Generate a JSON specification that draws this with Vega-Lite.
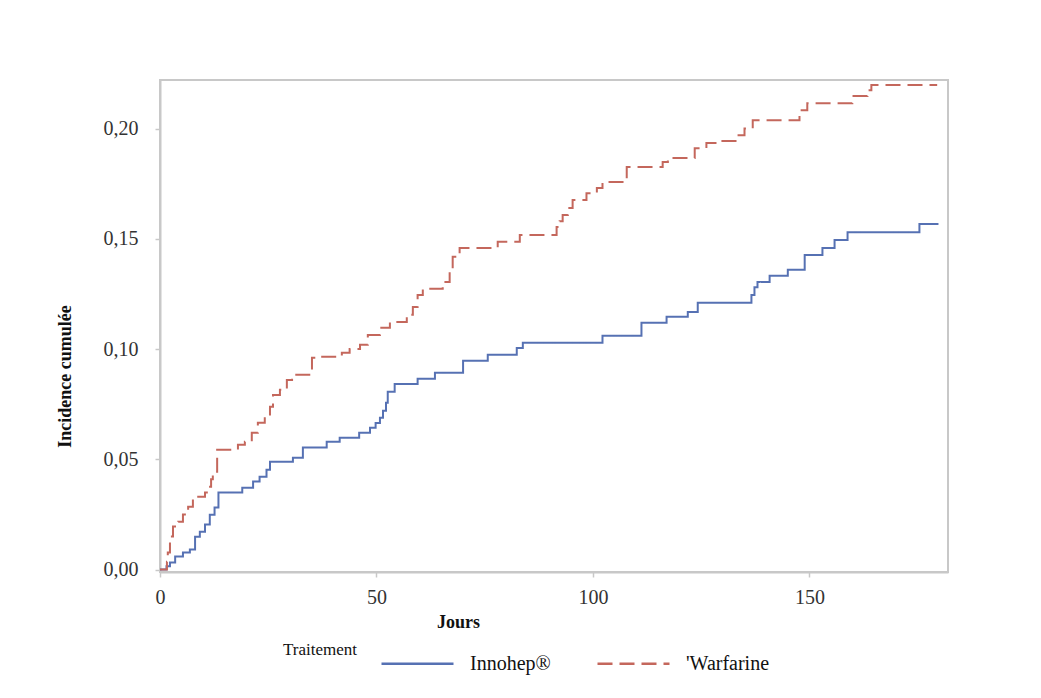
{
  "$schema": "https://vega.github.io/schema/vega-lite/v6.json",
  "width": 788,
  "height": 492,
  "autosize": {"type": "none"},
  "padding": {"left": 160, "top": 80, "right": 93, "bottom": 126},
  "background": "white",
  "config": {
    "view": {"stroke": "#c8c8c8", "strokeWidth": 2},
    "font": "Liberation Serif"
  },
  "data": {
    "values": [
      {"day": 0, "inc": 0, "trt": "Innohep®"},
      {"day": 1.5, "inc": 0.0015, "trt": "Innohep®"},
      {"day": 2.3, "inc": 0.0032, "trt": "Innohep®"},
      {"day": 3.5, "inc": 0.0059, "trt": "Innohep®"},
      {"day": 5.3, "inc": 0.0077, "trt": "Innohep®"},
      {"day": 6.9, "inc": 0.0091, "trt": "Innohep®"},
      {"day": 8.1, "inc": 0.0149, "trt": "Innohep®"},
      {"day": 9.2, "inc": 0.0172, "trt": "Innohep®"},
      {"day": 10.4, "inc": 0.0204, "trt": "Innohep®"},
      {"day": 11.5, "inc": 0.0249, "trt": "Innohep®"},
      {"day": 12.6, "inc": 0.0281, "trt": "Innohep®"},
      {"day": 13.5, "inc": 0.0349, "trt": "Innohep®"},
      {"day": 19, "inc": 0.0371, "trt": "Innohep®"},
      {"day": 21.5, "inc": 0.0399, "trt": "Innohep®"},
      {"day": 23, "inc": 0.0421, "trt": "Innohep®"},
      {"day": 24.6, "inc": 0.0453, "trt": "Innohep®"},
      {"day": 25.4, "inc": 0.0489, "trt": "Innohep®"},
      {"day": 30.7, "inc": 0.0507, "trt": "Innohep®"},
      {"day": 33, "inc": 0.0553, "trt": "Innohep®"},
      {"day": 38.5, "inc": 0.058, "trt": "Innohep®"},
      {"day": 41.5, "inc": 0.0598, "trt": "Innohep®"},
      {"day": 46, "inc": 0.062, "trt": "Innohep®"},
      {"day": 48.5, "inc": 0.0643, "trt": "Innohep®"},
      {"day": 49.8, "inc": 0.0665, "trt": "Innohep®"},
      {"day": 50.8, "inc": 0.0688, "trt": "Innohep®"},
      {"day": 51.5, "inc": 0.072, "trt": "Innohep®"},
      {"day": 52.2, "inc": 0.0756, "trt": "Innohep®"},
      {"day": 52.6, "inc": 0.0806, "trt": "Innohep®"},
      {"day": 54.2, "inc": 0.0842, "trt": "Innohep®"},
      {"day": 59.5, "inc": 0.0865, "trt": "Innohep®"},
      {"day": 63.5, "inc": 0.0892, "trt": "Innohep®"},
      {"day": 70, "inc": 0.0947, "trt": "Innohep®"},
      {"day": 75.7, "inc": 0.0974, "trt": "Innohep®"},
      {"day": 82.4, "inc": 0.1005, "trt": "Innohep®"},
      {"day": 83.8, "inc": 0.1028, "trt": "Innohep®"},
      {"day": 102.2, "inc": 0.106, "trt": "Innohep®"},
      {"day": 111.2, "inc": 0.1119, "trt": "Innohep®"},
      {"day": 117, "inc": 0.1146, "trt": "Innohep®"},
      {"day": 121.9, "inc": 0.1168, "trt": "Innohep®"},
      {"day": 124.2, "inc": 0.121, "trt": "Innohep®"},
      {"day": 136.6, "inc": 0.1245, "trt": "Innohep®"},
      {"day": 137.3, "inc": 0.128, "trt": "Innohep®"},
      {"day": 138, "inc": 0.1304, "trt": "Innohep®"},
      {"day": 140.8, "inc": 0.1332, "trt": "Innohep®"},
      {"day": 145, "inc": 0.136, "trt": "Innohep®"},
      {"day": 148.9, "inc": 0.1427, "trt": "Innohep®"},
      {"day": 153, "inc": 0.1458, "trt": "Innohep®"},
      {"day": 155.8, "inc": 0.1495, "trt": "Innohep®"},
      {"day": 158.8, "inc": 0.153, "trt": "Innohep®"},
      {"day": 175.4, "inc": 0.1567, "trt": "Innohep®"},
      {"day": 179.8, "inc": 0.1567, "trt": "Innohep®"},
      {"day": 0, "inc": 0, "trt": "'Warfarine"},
      {"day": 1.6, "inc": 0.0036, "trt": "'Warfarine"},
      {"day": 1.8, "inc": 0.0077, "trt": "'Warfarine"},
      {"day": 2.3, "inc": 0.015, "trt": "'Warfarine"},
      {"day": 3, "inc": 0.0195, "trt": "'Warfarine"},
      {"day": 4.2, "inc": 0.0217, "trt": "'Warfarine"},
      {"day": 5.3, "inc": 0.025, "trt": "'Warfarine"},
      {"day": 6.5, "inc": 0.0285, "trt": "'Warfarine"},
      {"day": 7.6, "inc": 0.033, "trt": "'Warfarine"},
      {"day": 10.4, "inc": 0.035, "trt": "'Warfarine"},
      {"day": 11.1, "inc": 0.0376, "trt": "'Warfarine"},
      {"day": 11.8, "inc": 0.041, "trt": "'Warfarine"},
      {"day": 12.2, "inc": 0.0444, "trt": "'Warfarine"},
      {"day": 13.2, "inc": 0.0543, "trt": "'Warfarine"},
      {"day": 18, "inc": 0.0566, "trt": "'Warfarine"},
      {"day": 19.6, "inc": 0.058, "trt": "'Warfarine"},
      {"day": 21.2, "inc": 0.062, "trt": "'Warfarine"},
      {"day": 22.6, "inc": 0.0666, "trt": "'Warfarine"},
      {"day": 24.2, "inc": 0.0693, "trt": "'Warfarine"},
      {"day": 25.4, "inc": 0.0738, "trt": "'Warfarine"},
      {"day": 26.1, "inc": 0.0792, "trt": "'Warfarine"},
      {"day": 27.7, "inc": 0.0815, "trt": "'Warfarine"},
      {"day": 29.3, "inc": 0.086, "trt": "'Warfarine"},
      {"day": 30.5, "inc": 0.0883, "trt": "'Warfarine"},
      {"day": 35.1, "inc": 0.096, "trt": "'Warfarine"},
      {"day": 36, "inc": 0.0965, "trt": "'Warfarine"},
      {"day": 42, "inc": 0.0983, "trt": "'Warfarine"},
      {"day": 43.8, "inc": 0.1, "trt": "'Warfarine"},
      {"day": 46.2, "inc": 0.1019, "trt": "'Warfarine"},
      {"day": 48, "inc": 0.1064, "trt": "'Warfarine"},
      {"day": 50.8, "inc": 0.1096, "trt": "'Warfarine"},
      {"day": 53.1, "inc": 0.1123, "trt": "'Warfarine"},
      {"day": 57, "inc": 0.1155, "trt": "'Warfarine"},
      {"day": 58.4, "inc": 0.1191, "trt": "'Warfarine"},
      {"day": 59.5, "inc": 0.1245, "trt": "'Warfarine"},
      {"day": 60.7, "inc": 0.1273, "trt": "'Warfarine"},
      {"day": 65.3, "inc": 0.1304, "trt": "'Warfarine"},
      {"day": 66.9, "inc": 0.135, "trt": "'Warfarine"},
      {"day": 67.6, "inc": 0.1418, "trt": "'Warfarine"},
      {"day": 69.2, "inc": 0.1458, "trt": "'Warfarine"},
      {"day": 78, "inc": 0.1486, "trt": "'Warfarine"},
      {"day": 83.1, "inc": 0.1517, "trt": "'Warfarine"},
      {"day": 91.6, "inc": 0.1553, "trt": "'Warfarine"},
      {"day": 92.3, "inc": 0.158, "trt": "'Warfarine"},
      {"day": 93, "inc": 0.1608, "trt": "'Warfarine"},
      {"day": 94.2, "inc": 0.164, "trt": "'Warfarine"},
      {"day": 95.3, "inc": 0.1676, "trt": "'Warfarine"},
      {"day": 98.5, "inc": 0.1707, "trt": "'Warfarine"},
      {"day": 100.9, "inc": 0.173, "trt": "'Warfarine"},
      {"day": 102.2, "inc": 0.1757, "trt": "'Warfarine"},
      {"day": 107.8, "inc": 0.1825, "trt": "'Warfarine"},
      {"day": 116.1, "inc": 0.1848, "trt": "'Warfarine"},
      {"day": 117.3, "inc": 0.1866, "trt": "'Warfarine"},
      {"day": 123.5, "inc": 0.1911, "trt": "'Warfarine"},
      {"day": 126.2, "inc": 0.1934, "trt": "'Warfarine"},
      {"day": 129.9, "inc": 0.1943, "trt": "'Warfarine"},
      {"day": 133.2, "inc": 0.197, "trt": "'Warfarine"},
      {"day": 135, "inc": 0.2, "trt": "'Warfarine"},
      {"day": 136.9, "inc": 0.2038, "trt": "'Warfarine"},
      {"day": 147.7, "inc": 0.2083, "trt": "'Warfarine"},
      {"day": 149.5, "inc": 0.2115, "trt": "'Warfarine"},
      {"day": 159.9, "inc": 0.2147, "trt": "'Warfarine"},
      {"day": 163.4, "inc": 0.2174, "trt": "'Warfarine"},
      {"day": 164.3, "inc": 0.2197, "trt": "'Warfarine"},
      {"day": 179.5, "inc": 0.2197, "trt": "'Warfarine"}
    ]
  },
  "mark": {"type": "line", "interpolate": "step-after", "strokeWidth": 2, "clip": true},
  "encoding": {
    "x": {
      "field": "day", "type": "quantitative",
      "scale": {"domain": [0, 182], "nice": false, "zero": false},
      "axis": {
        "values": [0, 50, 100, 150],
        "title": "Jours",
        "titleFont": "Liberation Serif", "titleFontSize": 18, "titleFontWeight": "bold", "titleColor": "#111",
        "titleX": 298, "titleY": 50, "titleBaseline": "middle", "titleAlign": "center", "titleAnchor": null,
        "labelFont": "Liberation Serif", "labelFontSize": 20, "labelColor": "#333", "labelPadding": 10,
        "domainColor": "#c8c8c8", "domainWidth": 2, "tickColor": "#c8c8c8", "tickSize": 5, "tickWidth": 1.5,
        "grid": false, "labelFlush": false
      }
    },
    "y": {
      "field": "inc", "type": "quantitative",
      "scale": {"domain": [-0.0011, 0.222], "nice": false, "zero": false},
      "axis": {
        "values": [0, 0.05, 0.1, 0.15, 0.2],
        "labelExpr": "replace(format(datum.value, '.2f'), '.', ',')",
        "title": "Incidence cumulée",
        "titleFont": "Liberation Serif", "titleFontSize": 18, "titleFontWeight": "bold", "titleColor": "#111",
        "titleAngle": 270, "titleX": -95, "titleY": 296, "titleBaseline": "middle", "titleAlign": "center", "titleAnchor": null,
        "labelFont": "Liberation Serif", "labelFontSize": 20, "labelColor": "#333", "labelPadding": 17,
        "domainColor": "#c8c8c8", "domainWidth": 2, "tickColor": "#c8c8c8", "tickSize": 5, "tickWidth": 1.5,
        "grid": false
      }
    },
    "color": {
      "field": "trt", "type": "nominal",
      "scale": {"domain": ["Innohep®", "'Warfarine"], "range": ["#5671b3", "#c4675c"]},
      "legend": {
        "title": "Traitement",
        "orient": "none", "legendX": 123, "legendY": 546,
        "direction": "horizontal",
        "titleOrient": "left", "titlePadding": 23,
        "titleFont": "Liberation Serif", "titleFontSize": 17, "titleFontWeight": "normal", "titleColor": "#111",
        "labelFont": "Liberation Serif", "labelFontSize": 20, "labelColor": "#111", "labelOffset": 15,
        "symbolType": "stroke", "symbolSize": 5184, "symbolStrokeWidth": 2.5,
        "columnPadding": 41,
        "encode": {"symbols": {"update": {"stroke": {"signal": "datum.value === 'Innohep®' ? '#5671b3' : '#d08a5e'"}}}}
      }
    },
    "strokeDash": {
      "field": "trt", "type": "nominal",
      "scale": {"domain": ["Innohep®", "'Warfarine"], "range": [[1, 0], [15, 7]]},
      "legend": null
    }
  }
}
